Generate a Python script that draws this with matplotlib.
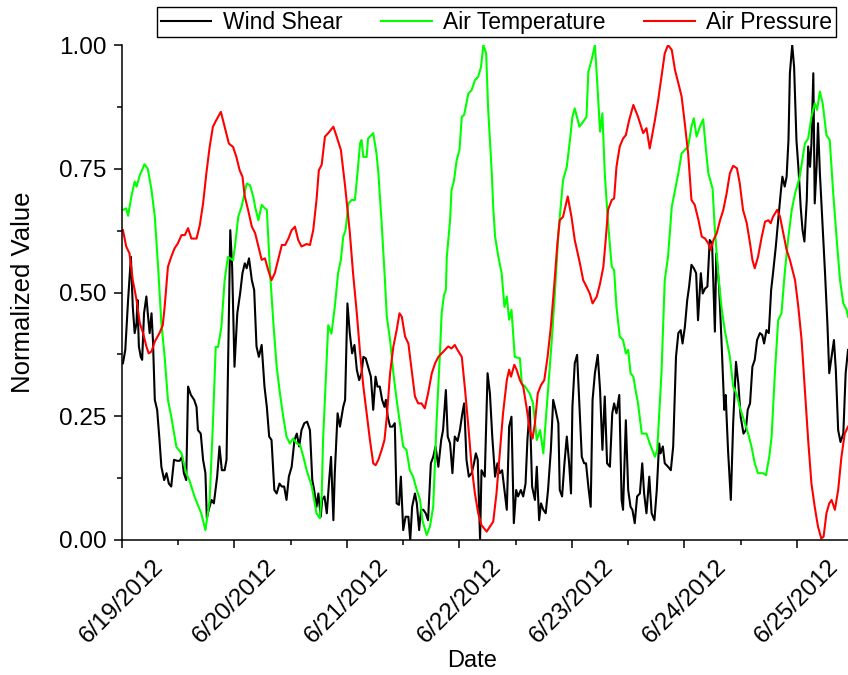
#!/usr/bin/env python3

import datetime as dt
import matplotlib
matplotlib.use("Agg")
import matplotlib.pyplot as plt
import matplotlib.dates as mdates
from matplotlib.ticker import FuncFormatter, MultipleLocator

#####
##### Data: hours since 6/19/2012 00:00 and normalized values
#####

START = dt.datetime(2012, 6, 19)
END_HOURS = 154.9

shear_hours = [
    0.2, 0.7, 1.3, 1.9, 2.3, 2.7, 3.1, 3.3, 3.6, 4.0, 4.3, 4.7, 5.2, 5.5, 5.9, 6.3, 6.6, 7.0,
    7.5, 8.0, 8.4, 9.0, 9.5, 10.0, 10.5, 11.1, 11.8, 12.3, 12.8, 13.2, 13.7, 14.1, 14.7, 15.4,
    15.9, 16.2, 16.8, 17.3, 17.8, 18.1, 18.5, 19.1, 19.6, 20.3, 20.8, 21.3, 21.9, 22.3, 22.6,
    23.1, 23.5, 24.0, 24.6, 25.2, 25.7, 26.2, 26.6, 27.1, 27.7, 28.2, 28.7, 29.2, 29.8, 30.4,
    30.9, 31.4, 31.9, 32.5, 33.0, 33.6, 34.1, 34.6, 35.1, 35.6, 36.2, 36.8, 37.3, 37.8, 38.3,
    38.9, 39.5, 40.1, 40.6, 41.0, 41.5, 41.9, 42.4, 42.7, 43.2, 43.7, 44.2, 44.6, 45.1, 45.4,
    46.0, 46.5, 47.2, 47.6, 48.1, 48.6, 49.1, 49.6, 50.1, 50.6, 51.1, 51.5, 52.0, 52.5, 53.1,
    53.6, 54.1, 54.5, 55.0, 55.5, 56.0, 56.3, 56.7, 57.2, 57.7, 58.2, 58.6, 59.1, 59.5, 60.0,
    60.5, 61.1, 61.5, 61.9, 62.5, 62.9, 63.4, 63.8, 64.3, 64.8, 65.3, 65.9, 66.4, 66.9, 67.5,
    68.1, 68.5, 69.1, 69.5, 70.0, 70.5, 71.0, 71.6, 72.1, 72.6, 73.0, 73.5, 74.0, 74.6, 75.1,
    75.5, 75.9, 76.4, 76.7, 77.4, 78.0, 78.5, 79.0, 79.6, 80.1, 80.6, 81.1, 81.6, 82.1, 82.6,
    83.1, 83.6, 84.1, 84.5, 85.1, 85.6, 86.1, 86.5, 87.0, 87.5, 88.1, 88.5, 89.0, 89.4, 89.9,
    90.4, 90.9, 91.5, 92.0, 92.5, 93.1, 93.4, 93.9, 94.4, 94.9, 95.4, 95.8, 96.1, 96.6, 97.1,
    97.6, 98.1, 98.6, 99.0, 99.5, 100.0, 100.4, 100.9, 101.5, 102.0, 102.5, 103.0, 103.5,
    104.1, 104.6, 105.0, 105.5, 106.1, 106.6, 106.9, 107.5, 108.0, 108.5, 108.9, 109.4, 109.9,
    110.5, 111.0, 111.4, 111.9, 112.5, 113.0, 113.6, 114.1, 114.6, 114.9, 115.4, 115.8, 116.5,
    117.1, 117.6, 118.2, 118.7, 119.2, 119.6, 120.1, 120.6, 121.0, 121.5, 122.0, 122.5, 122.9,
    123.5, 123.9, 124.4, 124.9, 125.4, 125.9, 126.5, 126.8, 127.4, 127.9, 128.5, 128.8, 129.3,
    129.9, 130.4, 131.0, 131.5, 132.0, 132.6, 133.1, 133.5, 134.0, 134.5, 135.0, 135.5, 136.1,
    136.6, 137.0, 137.5, 138.0, 138.5, 138.9, 139.5, 140.0, 140.6, 140.9, 141.4, 141.8, 142.2,
    142.5, 143.0, 143.4, 143.9, 144.4, 144.8, 145.2, 145.6, 146.1, 146.4, 146.8, 147.1, 147.5,
    147.8, 148.2, 148.5, 148.9, 149.5, 150.0, 150.5, 150.9, 151.4, 151.9, 152.3, 152.8, 153.3,
    153.9, 154.4, 154.9,
]
shear_vals = [
    0.357, 0.384, 0.485, 0.572, 0.471, 0.418, 0.438, 0.485, 0.391, 0.370, 0.364, 0.458, 0.492,
    0.458, 0.418, 0.458, 0.404, 0.283, 0.263, 0.202, 0.148, 0.121, 0.135, 0.114, 0.108, 0.162,
    0.160, 0.160, 0.168, 0.135, 0.121, 0.310, 0.293, 0.283, 0.269, 0.222, 0.215, 0.162, 0.135,
    0.044, 0.061, 0.081, 0.074, 0.128, 0.189, 0.141, 0.141, 0.162, 0.337, 0.626, 0.552, 0.350,
    0.458, 0.498, 0.539, 0.559, 0.549, 0.569, 0.525, 0.505, 0.391, 0.370, 0.394, 0.310, 0.269,
    0.209, 0.202, 0.101, 0.094, 0.114, 0.108, 0.108, 0.081, 0.128, 0.148, 0.202, 0.215, 0.189,
    0.222, 0.236, 0.239, 0.222, 0.121, 0.101, 0.067, 0.094, 0.047, 0.081, 0.088, 0.054, 0.121,
    0.168, 0.040, 0.135, 0.256, 0.229, 0.269, 0.283, 0.478, 0.418, 0.377, 0.394, 0.344, 0.323,
    0.337, 0.370, 0.367, 0.350, 0.330, 0.263, 0.330, 0.310, 0.310, 0.283, 0.269, 0.283, 0.249,
    0.229, 0.229, 0.236, 0.074, 0.071, 0.128, 0.020, 0.047, 0.047, 0.000, 0.067, 0.094, 0.074,
    0.020, 0.061, 0.061, 0.054, 0.040, 0.155, 0.168, 0.189, 0.148, 0.202, 0.222, 0.303, 0.209,
    0.195, 0.135, 0.209, 0.200, 0.222, 0.255, 0.276, 0.162, 0.128, 0.135, 0.155, 0.175, 0.162,
    0.000, 0.141, 0.128, 0.337, 0.296, 0.209, 0.128, 0.155, 0.135, 0.141, 0.101, 0.061, 0.229,
    0.249, 0.034, 0.101, 0.088, 0.101, 0.088, 0.114, 0.202, 0.269, 0.108, 0.081, 0.148, 0.040,
    0.074, 0.061, 0.054, 0.101, 0.182, 0.283, 0.263, 0.236, 0.101, 0.088, 0.155, 0.209, 0.155,
    0.094, 0.269, 0.357, 0.374, 0.269, 0.168, 0.155, 0.155, 0.108, 0.067, 0.283, 0.337, 0.374,
    0.303, 0.182, 0.290, 0.155, 0.148, 0.256, 0.276, 0.256, 0.293, 0.081, 0.061, 0.242, 0.101,
    0.067, 0.061, 0.034, 0.088, 0.094, 0.155, 0.094, 0.054, 0.128, 0.054, 0.040, 0.101, 0.195,
    0.175, 0.189, 0.155, 0.148, 0.141, 0.189, 0.370, 0.418, 0.424, 0.397, 0.431, 0.485, 0.512,
    0.556, 0.549, 0.539, 0.444, 0.539, 0.498, 0.508, 0.512, 0.606, 0.599, 0.421, 0.579, 0.512,
    0.404, 0.263, 0.293, 0.182, 0.081, 0.236, 0.360, 0.316, 0.249, 0.215, 0.222, 0.263, 0.276,
    0.350, 0.364, 0.404, 0.418, 0.414, 0.397, 0.424, 0.418, 0.505, 0.539, 0.593, 0.646, 0.707,
    0.734, 0.714, 0.734, 0.808, 0.943, 1.000, 0.956, 0.808, 0.741, 0.673, 0.626, 0.603, 0.687,
    0.795, 0.754, 0.801, 0.943, 0.680, 0.754, 0.842, 0.741, 0.633, 0.539, 0.438, 0.337, 0.370,
    0.404, 0.344, 0.222, 0.198, 0.215, 0.337, 0.384,
]

temp_hours = [
    0.2, 0.9, 1.3, 2.0, 2.7, 3.1, 3.8, 4.8, 5.5, 6.3, 7.0, 7.7, 8.4, 9.1, 9.8, 10.5, 11.6, 12.7,
    13.7, 14.4, 15.5, 16.9, 17.8, 18.7, 19.4, 20.0, 20.5, 21.2, 21.9, 22.6, 23.7, 24.1, 24.8,
    25.5, 26.6, 27.3, 28.0, 28.4, 29.1, 29.8, 30.5, 30.9, 31.6, 32.3, 33.0, 33.7, 34.4, 35.1,
    35.8, 36.5, 37.3, 38.0, 38.7, 39.4, 40.5, 41.5, 42.2, 42.6, 42.9, 43.7, 44.0, 44.7, 45.4,
    46.1, 46.7, 47.2, 47.7, 48.3, 49.0, 49.7, 50.1, 50.8, 51.1, 51.5, 52.2, 52.5, 53.6, 54.3,
    54.7, 55.4, 56.1, 56.5, 57.2, 57.9, 58.6, 59.3, 60.0, 60.7, 61.4, 62.1, 62.9, 63.6, 64.1,
    65.0, 65.7, 66.4, 67.1, 67.8, 68.2, 68.7, 69.1, 69.3, 70.0, 70.3, 70.8, 71.4, 72.0, 72.5,
    73.0, 73.9, 74.6, 75.3, 76.0, 76.6, 77.1, 77.7, 78.1, 78.9, 79.2, 79.6, 80.3, 81.0, 81.6,
    82.1, 82.6, 83.1, 83.8, 84.9, 85.3, 86.0, 87.0, 87.7, 88.5, 89.2, 89.9, 90.2, 90.9, 91.7,
    92.4, 93.1, 94.1, 94.9, 95.6, 96.1, 96.6, 97.6, 98.4, 99.1, 99.5, 100.2, 100.9, 101.4,
    102.0, 102.5, 103.0, 103.7, 104.5, 105.0, 105.5, 106.2, 106.9, 107.5, 108.0, 108.5, 109.1,
    109.7, 110.1, 110.9, 111.9, 112.6, 113.7, 114.2, 115.1, 115.8, 116.5, 117.3, 118.0, 118.7,
    119.4, 120.1, 120.8, 121.5, 122.0, 122.6, 123.3, 124.0, 124.6, 125.1, 126.0, 126.5, 127.2,
    127.9, 128.6, 129.7, 130.4, 131.1, 131.8, 132.9, 133.6, 134.3, 135.0, 135.7, 136.8, 137.4,
    138.1, 138.6, 139.3, 140.0, 140.7, 141.4, 142.1, 142.9, 143.6, 144.6, 145.7, 146.4, 147.1,
    147.8, 148.3, 148.9, 149.5, 150.3, 151.0, 151.7, 152.5, 153.2, 153.9, 154.6, 154.9,
]
temp_vals = [
    0.667, 0.670, 0.655, 0.694, 0.724, 0.714, 0.737, 0.759, 0.750, 0.707, 0.653, 0.552, 0.438,
    0.370, 0.283, 0.250, 0.188, 0.175, 0.135, 0.120, 0.087, 0.054, 0.020, 0.081, 0.236, 0.390,
    0.390, 0.430, 0.525, 0.572, 0.565, 0.593, 0.653, 0.673, 0.720, 0.717, 0.694, 0.673, 0.646,
    0.677, 0.670, 0.667, 0.539, 0.438, 0.350, 0.296, 0.249, 0.209, 0.195, 0.205, 0.195, 0.192,
    0.168, 0.141, 0.108, 0.054, 0.044, 0.088, 0.202, 0.370, 0.434, 0.417, 0.471, 0.539, 0.566,
    0.613, 0.626, 0.680, 0.687, 0.687, 0.727, 0.801, 0.808, 0.774, 0.774, 0.811, 0.822, 0.781,
    0.741, 0.640, 0.525, 0.451, 0.404, 0.337, 0.283, 0.236, 0.189, 0.182, 0.141, 0.128, 0.101,
    0.081, 0.040, 0.010, 0.027, 0.067, 0.236, 0.370, 0.458, 0.495, 0.505, 0.572, 0.646, 0.707,
    0.724, 0.767, 0.788, 0.855, 0.859, 0.902, 0.909, 0.929, 0.936, 0.956, 1.000, 0.983, 0.875,
    0.741, 0.673, 0.613, 0.572, 0.539, 0.471, 0.492, 0.445, 0.465, 0.370, 0.367, 0.316, 0.310,
    0.296, 0.276, 0.202, 0.222, 0.175, 0.215, 0.303, 0.404, 0.505, 0.620, 0.727, 0.754, 0.810,
    0.855, 0.872, 0.835, 0.845, 0.855, 0.946, 0.970, 1.000, 0.923, 0.825, 0.862, 0.741, 0.640,
    0.552, 0.545, 0.471, 0.411, 0.404, 0.377, 0.384, 0.337, 0.330, 0.296, 0.276, 0.215, 0.215,
    0.195, 0.168, 0.182, 0.337, 0.525, 0.572, 0.673, 0.707, 0.741, 0.781, 0.788, 0.795, 0.835,
    0.852, 0.815, 0.835, 0.850, 0.788, 0.741, 0.710, 0.626, 0.539, 0.471, 0.424, 0.370, 0.310,
    0.296, 0.269, 0.236, 0.215, 0.189, 0.155, 0.135, 0.135, 0.131, 0.168, 0.209, 0.337, 0.444,
    0.458, 0.539, 0.606, 0.667, 0.700, 0.734, 0.801, 0.811, 0.855, 0.882, 0.869, 0.906, 0.882,
    0.818, 0.808, 0.707, 0.606, 0.525, 0.478, 0.465, 0.451,
]

press_hours = [
    0.2, 0.9, 1.6, 2.3, 3.1, 3.8, 4.5, 5.2, 5.7, 6.3, 7.0, 8.0, 8.7, 9.1, 9.8, 10.5, 11.2, 11.9,
    12.7, 13.4, 14.1, 14.8, 15.9, 16.6, 17.3, 18.0, 18.7, 19.4, 20.1, 21.1, 21.9, 22.8, 23.7,
    24.4, 25.1, 25.7, 26.2, 26.9, 27.7, 28.4, 29.1, 29.8, 30.5, 31.2, 31.9, 32.6, 33.3, 34.1,
    34.8, 35.5, 36.2, 36.9, 37.6, 38.3, 39.4, 40.1, 40.8, 41.5, 42.0, 42.6, 43.3, 44.0, 45.1,
    45.8, 46.7, 47.6, 48.6, 49.3, 50.1, 50.8, 51.5, 52.2, 52.9, 53.6, 54.1, 54.7, 55.4, 56.0,
    56.5, 57.2, 57.9, 58.6, 59.2, 59.7, 60.4, 61.1, 61.8, 62.5, 63.2, 63.9, 64.6, 65.3, 66.1,
    66.8, 67.5, 68.2, 68.9, 69.6, 70.3, 71.0, 71.7, 72.5, 73.2, 73.9, 74.6, 75.3, 76.0, 76.7,
    77.8, 78.5, 79.2, 79.9, 80.6, 81.3, 82.1, 82.6, 83.0, 83.7, 84.2, 84.9, 85.6, 86.3, 87.0,
    87.6, 88.1, 88.7, 89.4, 90.1, 90.8, 91.5, 92.2, 92.9, 93.4, 94.1, 95.1, 95.9, 96.6, 97.7,
    98.4, 99.1, 99.8, 100.4, 101.3, 102.0, 102.7, 103.2, 103.7, 104.5, 105.0, 105.5, 106.2,
    106.9, 107.5, 108.2, 109.1, 110.1, 111.2, 111.9, 112.6, 113.7, 114.4, 115.1, 115.8, 116.5,
    117.3, 118.0, 118.7, 119.4, 120.1, 120.8, 121.5, 122.2, 123.0, 123.7, 124.4, 125.1, 125.6,
    126.2, 126.9, 127.6, 128.3, 129.0, 129.7, 130.4, 131.2, 131.8, 132.5, 133.3, 134.0, 134.5,
    135.0, 135.7, 136.5, 137.2, 137.9, 138.4, 138.9, 139.8, 140.4, 141.1, 141.8, 142.5, 143.6,
    144.3, 145.0, 145.7, 146.4, 147.1, 147.8, 148.5, 149.2, 149.7, 150.3, 150.9, 151.4, 152.1,
    152.8, 153.5, 154.2, 154.9,
]
press_vals = [
    0.626, 0.593, 0.579, 0.525, 0.485, 0.438, 0.418, 0.391, 0.377, 0.381, 0.401, 0.418, 0.434,
    0.471, 0.552, 0.572, 0.589, 0.599, 0.616, 0.616, 0.630, 0.609, 0.609, 0.636, 0.680, 0.741,
    0.794, 0.835, 0.848, 0.865, 0.835, 0.801, 0.794, 0.774, 0.747, 0.734, 0.694, 0.667, 0.633,
    0.620, 0.593, 0.566, 0.569, 0.545, 0.525, 0.539, 0.566, 0.596, 0.596, 0.609, 0.626, 0.633,
    0.606, 0.593, 0.598, 0.596, 0.626, 0.687, 0.747, 0.758, 0.815, 0.822, 0.835, 0.815, 0.788,
    0.715, 0.622, 0.539, 0.458, 0.377, 0.310, 0.256, 0.202, 0.155, 0.151, 0.162, 0.182, 0.202,
    0.249, 0.337, 0.391, 0.424, 0.458, 0.451, 0.411, 0.397, 0.344, 0.290, 0.276, 0.276, 0.266,
    0.296, 0.337, 0.357, 0.370, 0.377, 0.384, 0.391, 0.387, 0.394, 0.382, 0.370, 0.303, 0.229,
    0.148, 0.094, 0.054, 0.030, 0.017, 0.027, 0.037, 0.094, 0.175, 0.256, 0.323, 0.344, 0.330,
    0.354, 0.344, 0.323, 0.310, 0.269, 0.222, 0.205, 0.236, 0.296, 0.313, 0.323, 0.370, 0.431,
    0.512, 0.599, 0.646, 0.653, 0.694, 0.653, 0.606, 0.559, 0.525, 0.512, 0.498, 0.478, 0.492,
    0.518, 0.552, 0.606, 0.667, 0.687, 0.690, 0.754, 0.795, 0.811, 0.818, 0.848, 0.879, 0.855,
    0.822, 0.832, 0.791, 0.848, 0.889, 0.936, 0.983, 1.000, 0.990, 0.949, 0.923, 0.896, 0.840,
    0.780, 0.687, 0.677, 0.646, 0.613, 0.609, 0.599, 0.586, 0.606, 0.620, 0.646, 0.667, 0.700,
    0.741, 0.756, 0.751, 0.721, 0.667, 0.640, 0.599, 0.566, 0.549, 0.572, 0.613, 0.643, 0.646,
    0.640, 0.653, 0.667, 0.653, 0.620, 0.586, 0.566, 0.525, 0.471, 0.404, 0.303, 0.202, 0.114,
    0.067, 0.027, 0.003, 0.007, 0.054, 0.074, 0.081, 0.061, 0.101, 0.168, 0.215, 0.229,
]

LABELS = ["Wind Shear", "Air Temperature", "Air Pressure"]
COLORS = ["#000000", "#00FF00", "#FF0000"]

y_ticks = [0.0, 0.25, 0.5, 0.75, 1.0]

FONT_SIZE_TICK = 17.5
FONT_SIZE_YLABEL = 18.5
FONT_SIZE_XLABEL = 17
FONT_SIZE_LEGEND = 16.5


def to_dates(hours):
    t0 = mdates.date2num(START)
    return [t0 + h / 24.0 for h in hours]


def date_label(x, pos):
    d = mdates.num2date(x)
    return "{}/{}/{}".format(d.month, d.day, d.year)


#####
##### Plot
#####

plt.rc('font', family=['Liberation Sans', 'DejaVu Sans'], size=FONT_SIZE_TICK)

fig = plt.figure(figsize=(8.48, 6.75), dpi=100)
ax = fig.add_axes([122 / 848, 0.2, 1 - 122 / 848, 0.9333 - 0.2])

series = [(shear_hours, shear_vals), (temp_hours, temp_vals), (press_hours, press_vals)]
for (hrs, vals), lab, col in zip(series, LABELS, COLORS):
    ax.plot(to_dates(hrs), vals, color=col, lw=1.5, label=lab)

ax.set_xlim(mdates.date2num(START), mdates.date2num(START) + END_HOURS / 24.0)
ax.set_ylim(0, 1)

### Day ticks with half-day minor ticks
ax.xaxis.set_major_locator(mdates.DayLocator())
ax.xaxis.set_minor_locator(mdates.HourLocator(byhour=[12]))
ax.xaxis.set_major_formatter(FuncFormatter(date_label))
ax.set_yticks(y_ticks)
ax.yaxis.set_minor_locator(MultipleLocator(0.125))
ax.yaxis.set_major_formatter(FuncFormatter(lambda v, p: "{:.2f}".format(v)))

ax.tick_params(which='major', direction='out', length=6, width=1.1, pad=5,
               labelsize=FONT_SIZE_TICK)
ax.tick_params(which='minor', direction='out', length=3.5, width=1.1)
plt.setp(ax.get_xticklabels(), rotation=45, ha='center')

ax.spines['top'].set_visible(False)
ax.spines['right'].set_visible(False)
ax.spines['left'].set_linewidth(1.1)
ax.spines['bottom'].set_linewidth(1.1)

ax.set_ylabel("Normalized Value", fontsize=FONT_SIZE_YLABEL)
ax.set_xlabel("Date", fontsize=FONT_SIZE_XLABEL)
ax.xaxis.set_label_coords(0.482, -0.222)
ax.yaxis.set_label_coords(-0.12, 0.5)

leg = fig.legend(loc='lower center', bbox_to_anchor=(0.5855, (675 - 37) / 675), ncol=3,
                 frameon=True, fancybox=False, framealpha=1, edgecolor='black',
                 handlelength=2.2, handletextpad=0.5, columnspacing=1.7,
                 borderpad=0.15, borderaxespad=0, fontsize=FONT_SIZE_LEGEND)
leg.get_frame().set_linewidth(1.0)

fig.savefig("out.png", dpi=100)
